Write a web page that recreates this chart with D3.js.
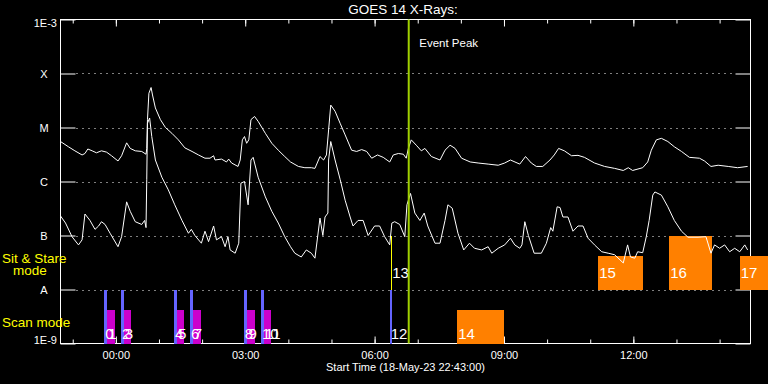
<!DOCTYPE html>
<html>
<head>
<meta charset="utf-8">
<script src="https://cdn.jsdelivr.net/npm/d3@7"></script>
<style>
  body { margin: 0; background: #000; }
  svg { display: block; }
  text { font-family: "Liberation Sans", Arial, sans-serif; fill: #fff; }
</style>
</head>
<body>
<div id="chart"></div>
<script>
// GOES 14 x-ray flux (W/m^2), times are minutes after the start time
var startTime = new Date(2023, 4, 18, 22, 43, 0);
var spanMinutes = 960;
var eventPeakMinutes = 484.5;

// upper curve (1-8 A)
var longTimes = [0,11,20,30,34,38,44,50,57,64,
  71,80,85,92,97,104,113,119,120,121,
  123,126,128,132,139,146,155,164,173,183,
  192,201,208,213,215,224,231,234,238,247,
  250,253,256,259,262,265,270,275,285,294,
  303,312,320,331,340,349,354,361,366,370,
  373,376,382,389,396,405,412,419,426,433,
  441,449,458,463,470,477,481,484,488,495,
  502,507,516,528,535,542,549,558,570,581,
  595,609,618,626,639,647,655,662,671,681,
  687,693,701,711,720,729,743,757,771,783,
  790,796,810,817,822,829,836,845,854,864,
  875,889,896,905,915,929,942,956];
var longFlux = [5.5e-6,4.4e-6,3.7e-6,3.1e-6,3.3e-6,4.0e-6,3.7e-6,3.4e-6,3.7e-6,3.5e-6,
  3.0e-6,2.4e-6,3.0e-6,5.2e-6,4.1e-6,3.7e-6,3.6e-6,3.2e-6,4.1e-6,1.4e-5,
  4.3e-5,5.5e-5,4.0e-5,2.3e-5,1.4e-5,1.0e-5,7.8e-6,5.9e-6,4.2e-6,3.6e-6,
  3.1e-6,2.7e-6,2.7e-6,3.0e-6,2.5e-6,2.6e-6,2.3e-6,2.6e-6,2.2e-6,1.9e-6,
  2.5e-6,5.9e-6,6.8e-6,5.1e-6,5.9e-6,1.4e-5,1.6e-5,1.3e-5,7.8e-6,5.1e-6,
  3.8e-6,2.9e-6,2.3e-6,1.9e-6,1.8e-6,1.8e-6,1.75e-6,2.9e-6,2.5e-6,3.1e-6,
  9.0e-6,2.6e-5,2.0e-5,1.2e-5,7.3e-6,3.8e-6,3.6e-6,3.9e-6,3.6e-6,2.7e-6,
  3.1e-6,2.8e-6,2.3e-6,3.1e-6,3.3e-6,3.2e-6,2.7e-6,4.1e-6,5.9e-6,4.7e-6,
  3.7e-6,4.1e-6,2.9e-6,2.5e-6,3.8e-6,4.7e-6,4.1e-6,2.7e-6,2.3e-6,2.2e-6,
  2.1e-6,2.0e-6,2.2e-6,2.5e-6,2.1e-6,2.9e-6,2.2e-6,1.9e-6,1.9e-6,2.5e-6,
  3.1e-6,4.1e-6,3.7e-6,3.0e-6,3.05e-6,2.8e-6,2.2e-6,1.9e-6,1.75e-6,1.6e-6,
  1.8e-6,1.6e-6,1.8e-6,2.3e-6,3.8e-6,5.9e-6,6.3e-6,5.5e-6,4.4e-6,3.6e-6,
  2.8e-6,2.7e-6,2.4e-6,1.9e-6,2.0e-6,1.9e-6,1.8e-6,1.9e-6];

// lower curve (0.5-4 A)
var shortTimes = [0,7,16,25,30,34,41,48,53,57,
  62,69,80,85,92,97,104,113,117,119,
  120,121,124,127,132,141,150,159,169,178,
  182,187,196,201,206,213,217,224,229,233,
  236,243,248,251,256,261,265,268,275,285,
  294,303,312,320,326,335,342,349,354,361,
  365,368,372,373,376,382,389,396,403,407,
  414,421,428,437,444,451,458,461,465,472,
  479,482,487,493,500,506,511,521,528,535,
  539,545,553,561,569,576,586,595,600,609,
  618,626,632,639,642,646,651,659,669,676,
  682,685,691,695,699,706,713,720,727,734,
  743,753,762,771,783,789,793,799,803,810,
  815,819,824,827,836,845,854,864,873,887,
  898,905,910,917,924,931,938,945,952,956];
var shortFlux = [2.3e-7,1.7e-7,9.5e-8,6.7e-8,8.3e-8,2.5e-7,1.9e-7,1.3e-7,1.5e-7,1.8e-7,
  1.6e-7,1.1e-7,6.2e-8,9.5e-8,4.2e-7,2.8e-7,1.8e-7,1.6e-7,1.9e-7,1.4e-7,
  1.1e-6,1.2e-5,1.5e-5,6.8e-6,2.5e-6,1.2e-6,7.0e-7,3.7e-7,1.9e-7,1.1e-7,
  1.3e-7,1.0e-7,7.2e-8,1.2e-7,7.7e-8,1.5e-7,8.3e-8,9.5e-8,6.2e-8,9.5e-8,
  5.4e-8,4.7e-8,7.2e-8,9.3e-7,1.0e-6,3.7e-7,2.5e-6,2.8e-6,1.2e-6,5.2e-7,
  2.8e-7,1.7e-7,9.5e-8,6.2e-8,4.7e-8,4.0e-8,5.4e-8,4.7e-8,3.8e-8,2.1e-7,
  1.0e-7,2.2e-7,2.6e-7,2.5e-6,5.5e-6,2.5e-6,1.1e-6,4.5e-7,2.2e-7,1.5e-7,
  1.9e-7,1.9e-7,1.0e-7,1.5e-7,1.5e-7,9.5e-8,6.7e-8,1.7e-7,1.8e-7,1.6e-7,
  9.5e-8,3.7e-7,6.0e-7,2.6e-7,1.9e-7,2.6e-7,1.5e-7,7.2e-8,7.2e-8,1.9e-7,
  3.7e-7,3.2e-7,1.1e-7,5.4e-8,7.2e-8,5.8e-8,5.4e-8,6.2e-8,4.7e-8,5.8e-8,
  6.7e-8,8.9e-8,6.7e-8,5.8e-8,6.7e-8,1.8e-7,1.0e-7,4.7e-8,4.7e-8,7.2e-8,
  1.4e-7,1.2e-7,3.4e-7,3.3e-7,2.2e-7,2.2e-7,1.2e-7,1.5e-7,1.5e-7,8.9e-8,
  6.7e-8,5.0e-8,4.7e-8,4.4e-8,3.1e-8,6.7e-8,4.0e-8,3.8e-8,5.0e-8,4.8e-8,
  9.5e-8,1.9e-7,5.6e-7,6.4e-7,5.6e-7,3.4e-7,1.9e-7,1.2e-7,9.3e-8,9.3e-8,
  9.5e-8,4.7e-8,6.7e-8,5.8e-8,6.7e-8,5.0e-8,5.8e-8,5.0e-8,6.7e-8,5.4e-8];

var yTickValues = [1e-9, 1e-8, 1e-7, 1e-6, 1e-5, 1e-4, 1e-3];
var yTickLabels = ["1E-9", "A", "B", "C", "M", "X", "1E-3"];

// observations (scan mode / sit & stare mode)
var obsIds   = [0, 1, 2, 3, 4, 5, 6, 7, 8, 9, 10, 11, 12, 13, 14, 15, 16, 17];
var obsStart = [61, 65, 84, 88, 158, 162, 180, 184, 255, 260, 279, 283, 458, 460, 552, 748, 847, 945];
var obsEnd   = [65, 76, 88, 98, 162, 172, 184, 196, 260, 271, 283, 293, 461, 461, 617, 810, 907, 984];
var obsMode  = ["scan","scan","scan","scan","scan","scan","scan","scan","scan","scan",
                "scan","scan","scan","sit","scan","sit","sit","sit"];
var obsKind  = ["a","b","a","b","a","b","a","b","a","b","a","b","a","d","c","c","c","c"];
var obsLevel = [1, 0.62, 1, 0.62, 1, 0.62, 1, 0.62, 1, 0.62, 1, 0.62, 1, 1, 0.62, 0.62, 1, 0.62];

var width = 768, height = 384;
var margin = {top: 19.5, right: 17.5, bottom: 40.5, left: 60.5};

var svg = d3.select("#chart")
  .append("svg")
    .attr("width", width)
    .attr("height", height)
    .style("background", "#000");

var toDate = function(m) { return new Date(startTime.getTime() + m * 60000); };

var x = d3.scaleTime()
    .domain([startTime, toDate(spanMinutes)])
    .range([margin.left, width - margin.right]);

var y = d3.scaleLog()
    .domain([1e-9, 1e-3])
    .range([height - margin.bottom, margin.top]);

var color = d3.scaleOrdinal()
    .domain(["a", "b", "c", "d"])
    .range(["#6464ff", "#cc00cc", "#ff8000", "#ffff00"]);

// dotted decade lines
var inner = yTickValues.slice(1, -1);
svg.append("g")
  .selectAll("line")
  .data(inner)
  .enter().append("line")
    .attr("x1", margin.left + 16)
    .attr("x2", width - margin.right - 15)
    .attr("y1", function(d) { return Math.round(y(d)) + 0.5; })
    .attr("y2", function(d) { return Math.round(y(d)) + 0.5; })
    .attr("stroke", "#fff")
    .attr("stroke-dasharray", "1,5");

// y ticks on both sides
svg.append("g")
    .attr("transform", "translate(" + margin.left + ",0)")
    .call(d3.axisLeft(y).tickValues(yTickValues).tickSize(-15).tickFormat(""))
    .call(function(g) { g.select(".domain").remove(); })
    .selectAll("line").attr("stroke", "#fff");
svg.append("g")
    .attr("transform", "translate(" + (width - margin.right) + ",0)")
    .call(d3.axisRight(y).tickValues(yTickValues).tickSize(-15).tickFormat(""))
    .call(function(g) { g.select(".domain").remove(); })
    .selectAll("line").attr("stroke", "#fff");

// y labels
svg.append("g")
  .selectAll("text")
  .data(yTickValues)
  .enter().append("text")
    .attr("x", function(d, i) { return (i == 0 || i == yTickValues.length - 1) ? 57 : 44; })
    .attr("y", function(d, i) {
      if (i == 0) return y(d) + 0.5;
      if (i == yTickValues.length - 1) return y(d) + 7.5;
      return y(d) + 4;
    })
    .attr("text-anchor", function(d, i) { return (i == 0 || i == yTickValues.length - 1) ? "end" : "middle"; })
    .style("font-size", "11px")
    .text(function(d, i) { return yTickLabels[i]; });

// x ticks: hourly minor, 3-hourly major
var bottomY = height - margin.bottom;
svg.append("g")
    .attr("transform", "translate(0," + bottomY + ")")
    .call(d3.axisBottom(x).ticks(d3.timeHour.every(1)).tickSize(-4).tickFormat(""))
    .call(function(g) { g.select(".domain").remove(); })
    .selectAll("line").attr("stroke", "#fff");
svg.append("g")
    .attr("transform", "translate(0," + margin.top + ")")
    .call(d3.axisTop(x).ticks(d3.timeHour.every(1)).tickSize(-4).tickFormat(""))
    .call(function(g) { g.select(".domain").remove(); })
    .selectAll("line").attr("stroke", "#fff");
var xMajor = svg.append("g")
    .attr("transform", "translate(0," + bottomY + ")")
    .call(d3.axisBottom(x).ticks(d3.timeHour.every(3)).tickSize(-7).tickPadding(8)
      .tickFormat(d3.timeFormat("%H:%M")))
    .call(function(g) { g.select(".domain").remove(); });
xMajor.selectAll("line").attr("stroke", "#fff");
xMajor.selectAll("text")
    .attr("fill", "#fff")
    .style("font-size", "11px")
    .style("font-family", "Liberation Sans, Arial, sans-serif");
svg.append("g")
    .attr("transform", "translate(0," + margin.top + ")")
    .call(d3.axisTop(x).ticks(d3.timeHour.every(3)).tickSize(-7).tickFormat(""))
    .call(function(g) { g.select(".domain").remove(); })
    .selectAll("line").attr("stroke", "#fff");

// frame
svg.append("rect")
    .attr("x", margin.left)
    .attr("y", margin.top)
    .attr("width", width - margin.right - margin.left)
    .attr("height", height - margin.bottom - margin.top)
    .attr("fill", "none")
    .attr("stroke", "#fff");

// observation bars
var rows = {scan: [1e-9, 1e-8], sit: [1e-8, 1e-7]};
var obs = obsIds.map(function(d, i) {
  return {id: d, start: obsStart[i], end: obsEnd[i], mode: obsMode[i], kind: obsKind[i], level: obsLevel[i]};
});
var rowTop = function(d) {
  var r = rows[d.mode];
  return Math.pow(10, Math.log10(r[0]) + d.level * (Math.log10(r[1]) - Math.log10(r[0])));
};
svg.append("g")
  .selectAll("rect")
  .data(obs)
  .enter().append("rect")
    .attr("x", function(d) { return Math.round(x(toDate(d.start))); })
    .attr("y", function(d) { return Math.round(y(rowTop(d))); })
    .attr("width", function(d) { return Math.max(1, Math.round(x(toDate(d.end))) - Math.round(x(toDate(d.start)))); })
    .attr("height", function(d) { return Math.round(y(rows[d.mode][0])) - Math.round(y(rowTop(d))); })
    .attr("fill", function(d) { return color(d.kind); })
    .style("shape-rendering", "crispEdges");

svg.append("g")
  .selectAll("text")
  .data(obs)
  .enter().append("text")
    .attr("x", function(d) { return x(toDate(d.start)) + 1; })
    .attr("y", function(d) { return d.mode == "scan" ? 339 : 278; })
    .style("font-size", "15px")
    .text(function(d) { return d.id; });

// mode labels
svg.append("text").attr("x", 2).attr("y", 263).style("fill", "#ffff00").style("font-size", "13.5px").text("Sit & Stare");
svg.append("text").attr("x", 13).attr("y", 275).style("fill", "#ffff00").style("font-size", "13.5px").text("mode");
svg.append("text").attr("x", 2).attr("y", 327).style("fill", "#ffff00").style("font-size", "13.5px").text("Scan mode");

// flux curves
var line = d3.line()
    .x(function(d) { return x(toDate(d[0])); })
    .y(function(d) { return y(d[1]); });

svg.append("path")
    .datum(d3.zip(longTimes, longFlux))
    .attr("d", line)
    .attr("fill", "none")
    .attr("stroke", "#fff")
    .attr("stroke-width", 1);
svg.append("path")
    .datum(d3.zip(shortTimes, shortFlux))
    .attr("d", line)
    .attr("fill", "none")
    .attr("stroke", "#fff")
    .attr("stroke-width", 1);

// event peak marker
var ex = x(toDate(eventPeakMinutes));
svg.append("line")
    .attr("x1", ex).attr("x2", ex)
    .attr("y1", margin.top).attr("y2", height - margin.bottom)
    .attr("stroke", "#a0d000")
    .attr("stroke-width", 2);
svg.append("text")
    .attr("x", ex + 10.5)
    .attr("y", 47)
    .style("font-size", "11.5px")
    .text("Event Peak");

// titles
svg.append("text")
    .attr("x", 403)
    .attr("y", 14)
    .attr("text-anchor", "middle")
    .style("font-size", "13.5px")
    .text("GOES 14 X-Rays:");
svg.append("text")
    .attr("x", (margin.left + width - margin.right) / 2)
    .attr("y", 371)
    .attr("text-anchor", "middle")
    .style("font-size", "11px")
    .text("Start Time (" + d3.timeFormat("%d-%b-%y %H:%M:%S")(startTime) + ")");
</script>
</body>
</html>
